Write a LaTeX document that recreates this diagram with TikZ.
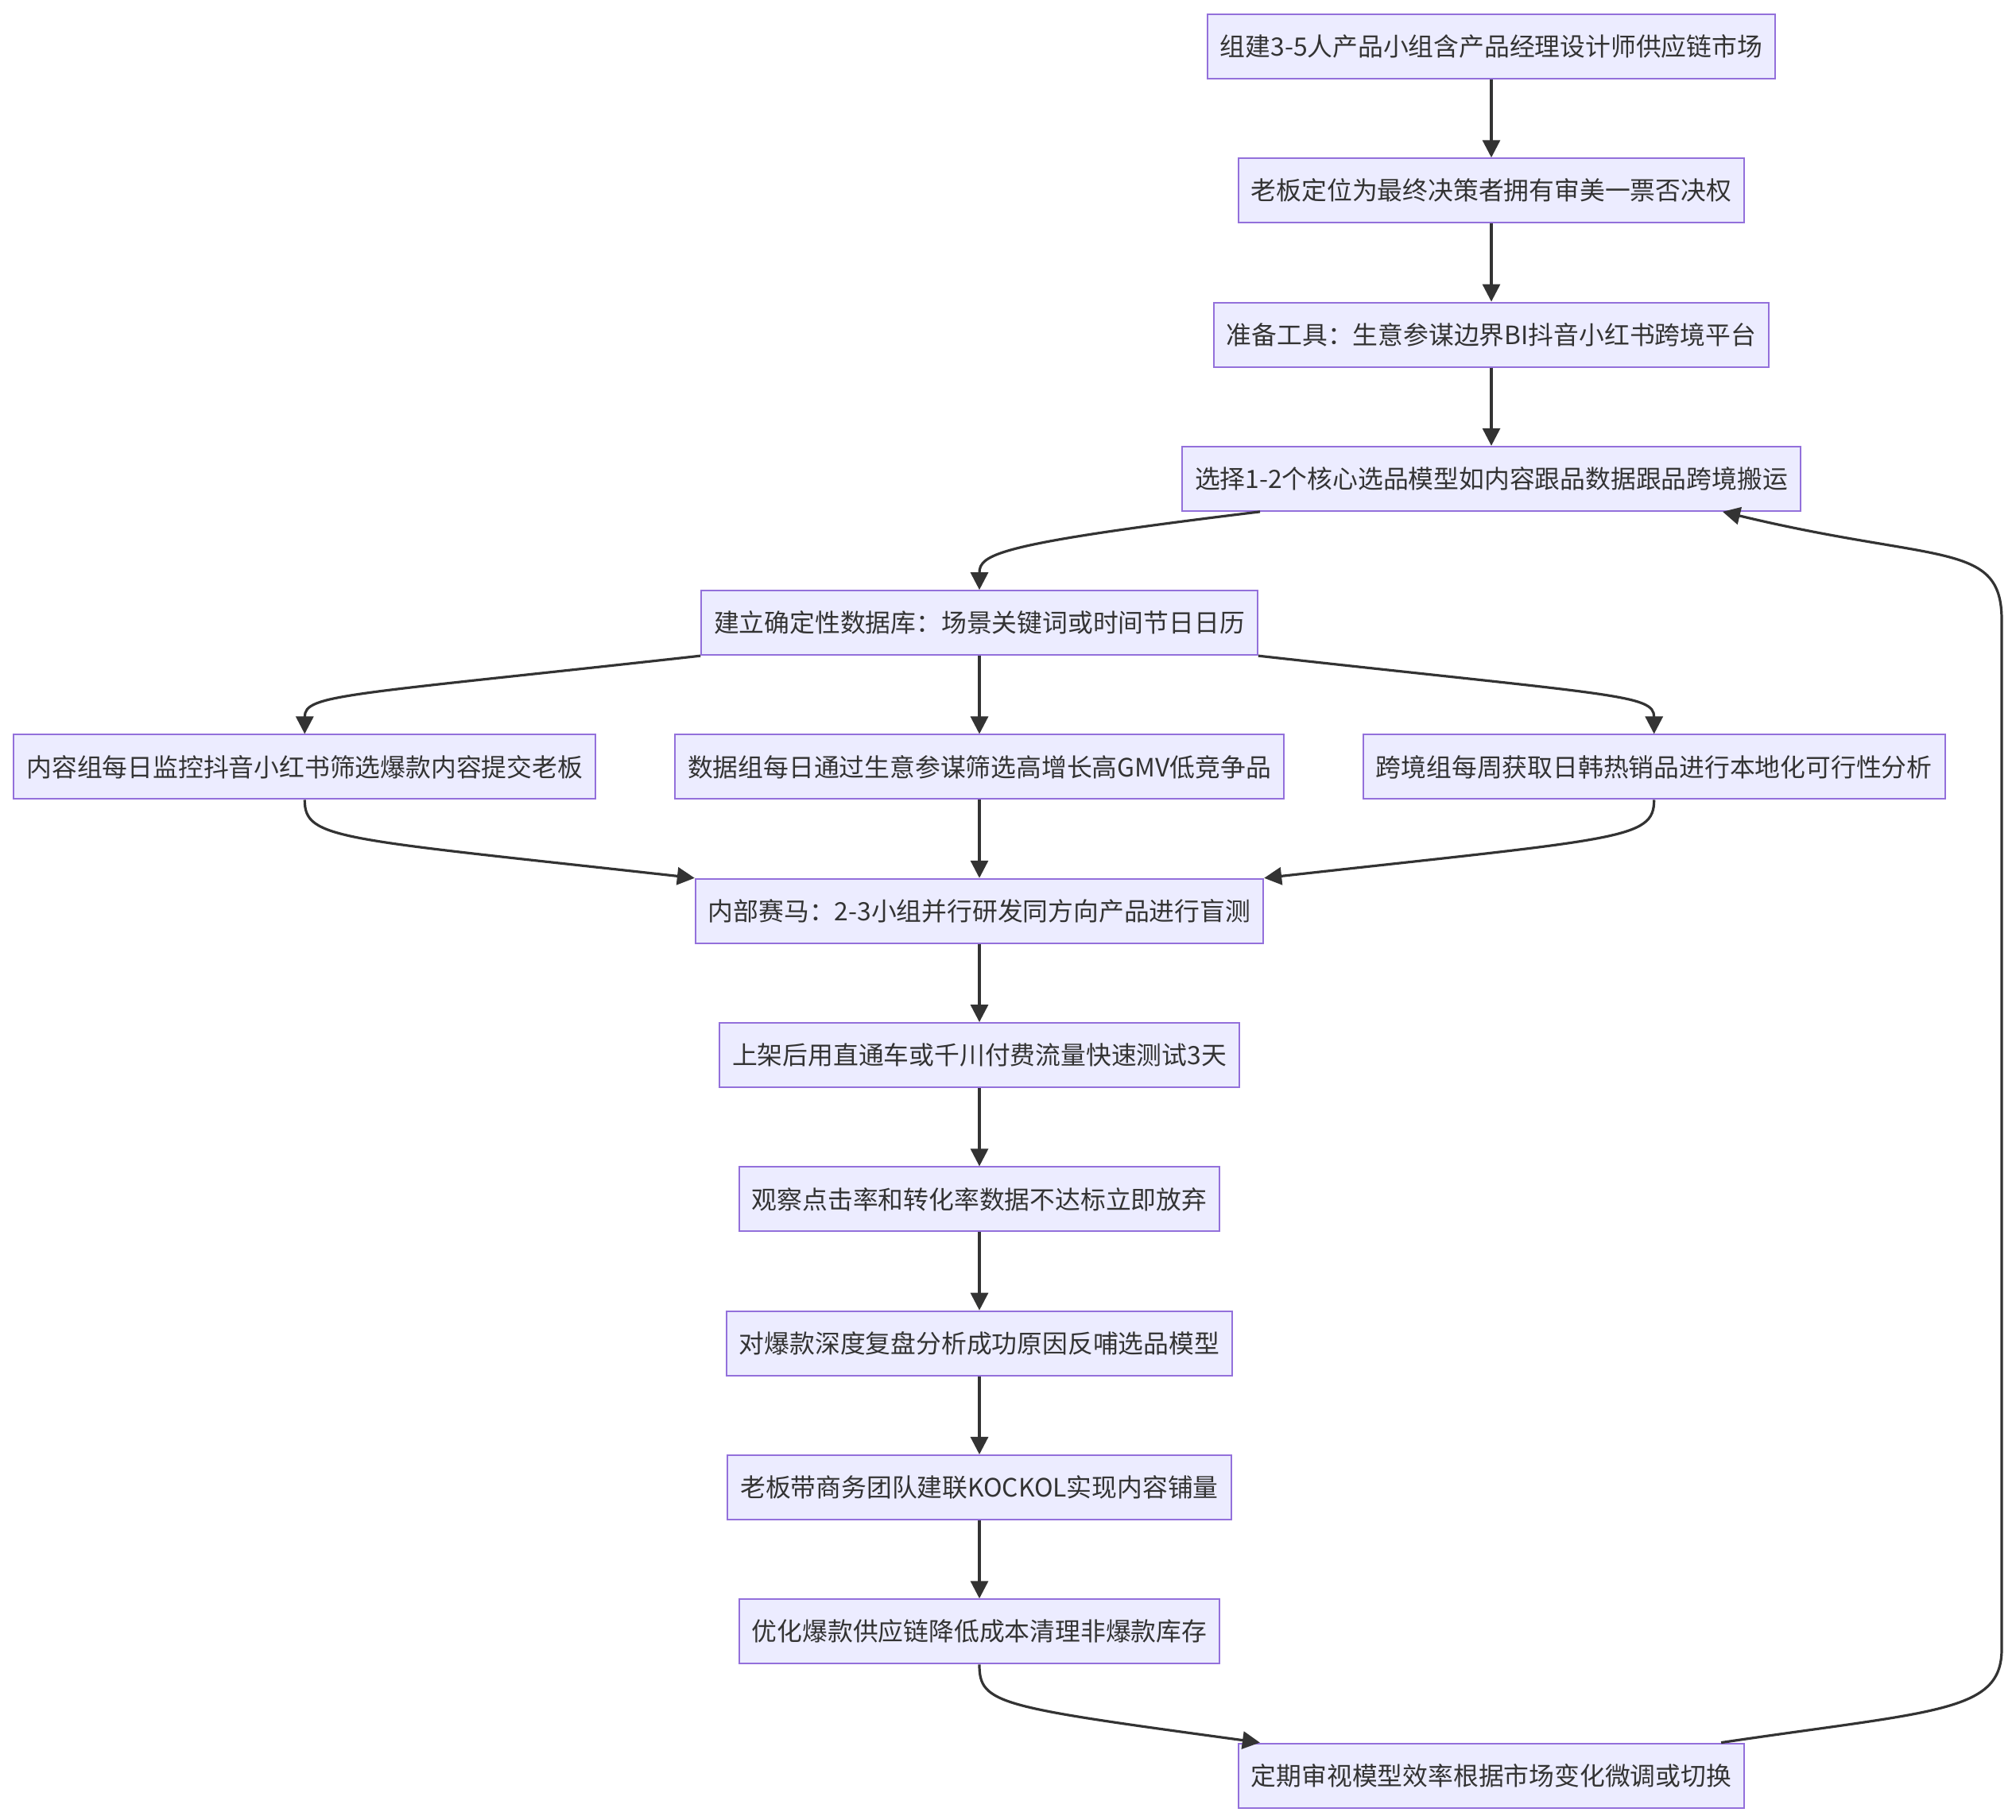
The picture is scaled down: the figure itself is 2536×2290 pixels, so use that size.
\documentclass[tikz,border=0pt]{standalone}
\usepackage{fontspec}
\newfontfamily\cjkfont{Noto Sans CJK SC}
\usepackage{xcolor}
\definecolor{boxfill}{HTML}{ECECFF}
\definecolor{boxline}{HTML}{9370DB}
\definecolor{inkgray}{HTML}{333333}
\usetikzlibrary{arrows.meta, positioning}

\begin{document}
\begin{tikzpicture}[
    x=1pt, y=1pt,
    node distance=98.3pt and 98pt,
    every node/.style={align=center},
    stepbox/.style={rectangle, draw=boxline, line width=2pt, fill=boxfill, text=inkgray, font=\cjkfont\fontsize{31.8pt}{38pt}\selectfont, inner xsep=16pt, minimum height=81pt},
    arrow/.style={-{Triangle[length=22pt, width=22pt]}, line width=3.2pt, draw=inkgray}
]
\useasboundingbox (0,0) rectangle (2536,2290);

% Nodes
\node[stepbox] (team) at (1876,2231.5) {组建3-5人产品小组含产品经理设计师供应链市场};
\node[stepbox, below=of team] (boss) {老板定位为最终决策者拥有审美一票否决权};
\node[stepbox, below=of boss] (tools) {准备工具：生意参谋边界BI抖音小红书跨境平台};
\node[stepbox, below=of tools] (model) {选择1-2个核心选品模型如内容跟品数据跟品跨境搬运};
\node[stepbox, below=of model, xshift=-644pt] (database) {建立确定性数据库：场景关键词或时间节日日历};
\node[stepbox, below=of database] (datagrp) {数据组每日通过生意参谋筛选高增长高GMV低竞争品};
\node[stepbox, left=of datagrp] (contentgrp) {内容组每日监控抖音小红书筛选爆款内容提交老板};
\node[stepbox, right=of datagrp] (crossgrp) {跨境组每周获取日韩热销品进行本地化可行性分析};
\node[stepbox, below=of datagrp] (race) {内部赛马：2-3小组并行研发同方向产品进行盲测};
\node[stepbox, below=of race] (adtest) {上架后用直通车或千川付费流量快速测试3天};
\node[stepbox, below=of adtest] (observe) {观察点击率和转化率数据不达标立即放弃};
\node[stepbox, below=of observe] (review) {对爆款深度复盘分析成功原因反哺选品模型};
\node[stepbox, below=of review] (kol) {老板带商务团队建联KOCKOL实现内容铺量};
\node[stepbox, below=of kol] (supply) {优化爆款供应链降低成本清理非爆款库存};
\node[stepbox, below=of supply, xshift=644pt] (audit) {定期审视模型效率根据市场变化微调或切换};

% Loop corners
\coordinate (loopbot) at (2518,215);
\coordinate (looptop) at (2518,1510);

% Connections
\draw[arrow] (team) -- (boss);
\draw[arrow] (boss) -- (tools);
\draw[arrow] (tools) -- (model);
\draw[arrow] ([xshift=99pt]model.south west) .. controls +(-330,-40) and +(0,45) .. (database.north);
\draw[arrow] (database.south west) .. controls +(-450,-50) and +(0,50) .. (contentgrp.north);
\draw[arrow] (database) -- (datagrp);
\draw[arrow] (database.south east) .. controls +(450,-50) and +(0,50) .. (crossgrp.north);
\draw[arrow] (contentgrp.south) .. controls +(0,-50) and +(-450,50) .. (race.north west);
\draw[arrow] (datagrp) -- (race);
\draw[arrow] (crossgrp.south) .. controls +(0,-50) and +(450,50) .. (race.north east);
\draw[arrow] (race) -- (adtest);
\draw[arrow] (adtest) -- (observe);
\draw[arrow] (observe) -- (review);
\draw[arrow] (review) -- (kol);
\draw[arrow] (kol) -- (supply);
\draw[arrow] (supply.south) .. controls +(0,-50) and +(-330,45) .. ([xshift=28pt]audit.north west);
\draw[arrow] ([xshift=-30pt]audit.north east) .. controls +(270,40) and +(0,-80) .. (loopbot) -- (looptop) .. controls +(0,100) and +(270,-65) .. ([xshift=-99pt]model.south east);

\end{tikzpicture}
\end{document}
